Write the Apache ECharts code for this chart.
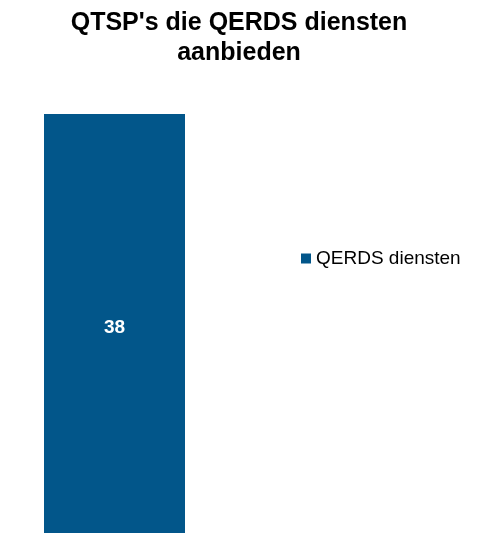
<!DOCTYPE html>
<html>
<head>
<meta charset="utf-8">
<script src="https://cdn.jsdelivr.net/npm/echarts@6/dist/echarts.min.js"></script>
<style>
  html, body { margin: 0; padding: 0; background: #fff; }
  #chart { width: 478px; height: 533px; }
</style>
</head>
<body>
<div id="chart"></div>
<script>
var categories = ["QTSP's"];
var seriesName = "QERDS diensten";
var seriesValues = [38];

var chart = echarts.init(document.getElementById("chart"));
var option = {
  animation: false,
  title: {
    text: "QTSP's die QERDS diensten\naanbieden",
    left: "center",
    top: 8,
    padding: 0,
    textStyle: {
      fontFamily: "Liberation Sans, Arial, sans-serif",
      fontSize: 25,
      fontWeight: "bold",
      color: "#000",
      lineHeight: 30
    }
  },
  legend: {
    data: [seriesName],
    orient: "vertical",
    left: 301,
    top: 249,
    padding: 0,
    icon: "rect",
    itemWidth: 10,
    itemHeight: 10,
    textStyle: {
      fontFamily: "Liberation Sans, Arial, sans-serif",
      fontSize: 19,
      color: "#000"
    }
  },
  grid: {
    left: 44,
    width: 141,
    top: 114,
    bottom: 0
  },
  xAxis: {
    type: "category",
    data: categories,
    show: false
  },
  yAxis: {
    type: "value",
    min: 0,
    max: 38,
    show: false
  },
  series: [
    {
      name: seriesName,
      type: "bar",
      data: seriesValues,
      barWidth: "100%",
      itemStyle: { color: "#02568A" },
      label: {
        show: true,
        position: "inside",
        offset: [0, 4],
        color: "#fff",
        fontFamily: "Liberation Sans, Arial, sans-serif",
        fontSize: 19,
        fontWeight: "bold"
      }
    }
  ]
};
chart.setOption(option);
</script>
</body>
</html>
